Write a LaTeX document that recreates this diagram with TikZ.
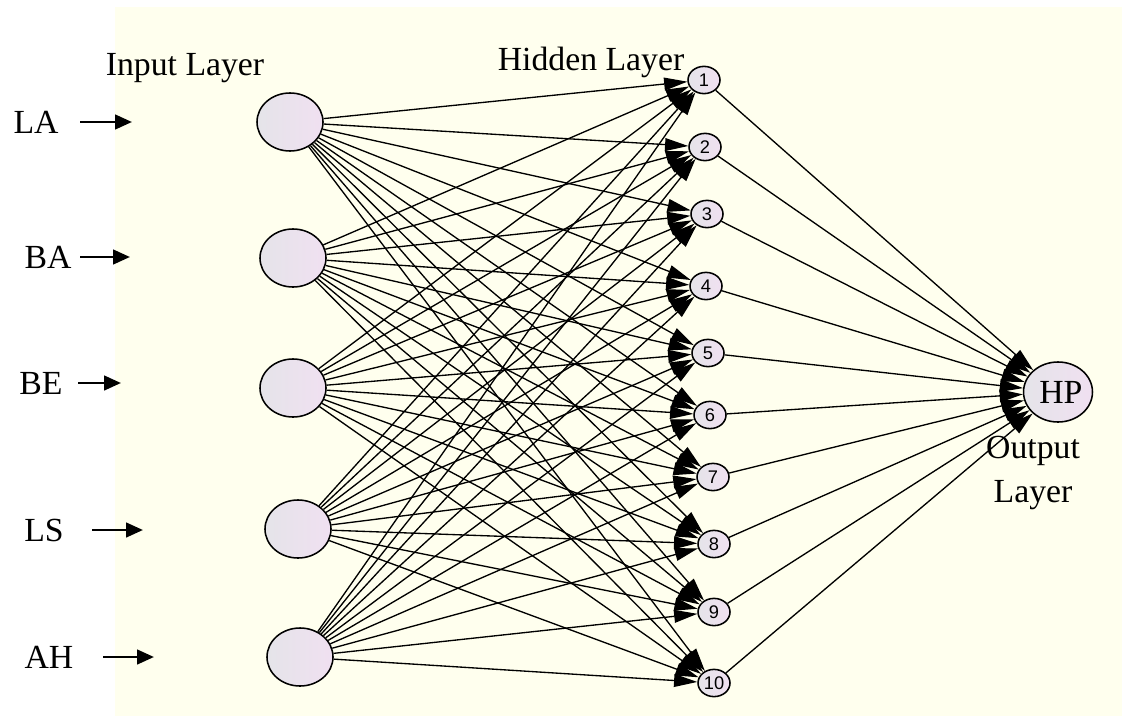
\documentclass[tikz,border=0pt]{standalone}
\usepackage{fontspec}
\setmainfont{Liberation Serif}
\newfontfamily\digitfont{Liberation Sans}
\usetikzlibrary{shapes.geometric,arrows.meta}
\definecolor{ivory}{RGB}{255,255,238}
\definecolor{lilac}{RGB}{240,224,241}
\definecolor{lilacgray}{RGB}{229,228,233}
\begin{document}
\begin{tikzpicture}[x=0.025cm, y=-0.025cm,
    neuron/.style={ellipse, draw, line width=1.1pt, left color=lilacgray, right color=lilac, inner sep=0pt},
    innode/.style={neuron, minimum width=1.65cm, minimum height=1.45cm},
    hidnode/.style={neuron, minimum width=0.8cm, minimum height=0.68cm, font=\digitfont\fontsize{13}{13}\selectfont},
    outnode/.style={neuron, minimum width=1.6cm, minimum height=1.5cm, font=\fontsize{24}{28}\selectfont},
    lbl/.style={font=\fontsize{24}{28}\selectfont, inner sep=0pt},
    link/.style={line width=0.95pt, -{Triangle[length=0.58cm,width=0.32cm]}},
    feed/.style={line width=2pt, -{Triangle[length=0.42cm,width=0.36cm]}}]
  \useasboundingbox (0,0) rectangle (1122,716);
  \fill[ivory] (115,7) rectangle (1122,716);

  \node[lbl] (inlayer) at (185,68) {Input Layer};
  \node[lbl] (hidlayer) at (591,62) {Hidden Layer};

  \foreach \i/\name/\lx/\ly/\ax/\bx/\nx/\ny in {
      1/LA/36/122/80/132/290/122,
      2/BA/48/257/80/130/293/258,
      3/BE/41/383/78/121/293/388,
      4/LS/44/530/92/143/298/529,
      5/AH/49/657/103/154/300/657} {
    \node[lbl] (name\i) at (\lx,\ly) {\name};
    \coordinate (tail\i) at (\ax,\ly);
    \coordinate (tip\i) at (\bx,\ly);
    \draw[feed] (tail\i) -- (tip\i);
    \node[innode] (in\i) at (\nx,\ny) {};
  }

  \foreach \j/\hx/\hy in {1/704/80, 2/705/147, 3/707/214, 4/706/286, 5/708/353,
      6/710/415, 7/713/477, 8/714/544, 9/714/612, 10/714/683}
    \node[hidnode] (hid\j) at (\hx,\hy) {\j};

  \node[outnode] (out) at (1058,392) {\,HP};
  \node[lbl, align=center, text width=3cm] (outlayer) at (1033,473) {Output\\[0.1cm]Layer};

  \foreach \i in {1,...,5}
    \foreach \j in {1,...,10}
      \draw[link] (in\i) -- (hid\j);
  \foreach \j in {1,...,10}
    \draw[link] (hid\j) -- (out);
\end{tikzpicture}
\end{document}
